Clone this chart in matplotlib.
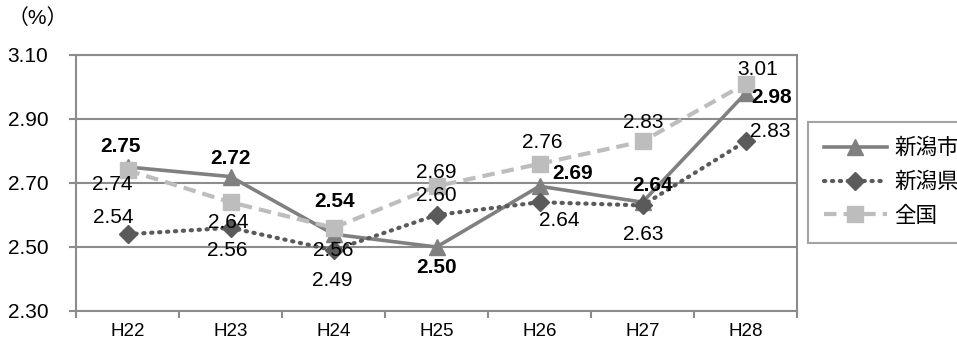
import matplotlib
matplotlib.use("Agg")
import matplotlib.pyplot as plt
from matplotlib.ticker import FixedLocator, NullFormatter

plt.rcParams['font.family'] = ['Liberation Sans', 'Noto Sans CJK JP', 'DejaVu Sans']

# data
years = ["H22", "H23", "H24", "H25", "H26", "H27", "H28"]
city = [2.75, 2.72, 2.54, 2.50, 2.69, 2.64, 2.98]
pref = [2.54, 2.56, 2.49, 2.60, 2.64, 2.63, 2.83]
nation = [2.74, 2.64, 2.56, 2.69, 2.76, 2.83, 3.01]
names = ["新潟市", "新潟県", "全国"]
yticks = [2.30, 2.50, 2.70, 2.90, 3.10]

# label offsets (pixels) for each series
city_off = [(-7, 20), (0, 18), (1, 33), (0, -21), (33, 13), (10, 17), (26, -4)]
pref_off = [(-14, 17), (-3, -23), (-1, -30), (0, 19), (20, -18), (1, -29), (25, 10)]
nation_off = [(-15, -14), (-2, -20), (0, -23), (0, 14), (3, 21), (1, 19), (12, 14)]

fig = plt.figure(figsize=(9.57, 3.41), dpi=100)
ax = fig.add_axes([76 / 957, 30 / 341, 721 / 957, 256 / 341])

x = list(range(len(years)))
grid_c = "#8c8c8c"

ax.plot(x, city, color="#808080", lw=2.6, marker="^", ms=11, label=names[0], zorder=3)
ax.plot(x, pref, color="#5a5a5a", lw=3, ls=(0, (0.3, 1.6)), dash_capstyle="round",
        marker="D", ms=9, label=names[1], zorder=4)
ax.plot(x, nation, color="#bdbdbd", lw=3, ls=(0, (3, 1.7)),
        marker="s", ms=11, label=names[2], zorder=5)

for vals, offs, bold in [(city, city_off, True), (pref, pref_off, False), (nation, nation_off, False)]:
    for i, v in enumerate(vals):
        ax.annotate(f"{v:.2f}", (i, v), xytext=offs[i], textcoords="offset pixels",
                    ha="center", va="center", fontsize=15,
                    fontweight="bold" if bold else "normal", color="black", zorder=10)

ax.set_xlim(-0.5, len(years) - 0.5)
ax.set_ylim(2.30, 3.10)
ax.set_yticks(yticks)
ax.set_yticklabels([f"{t:.2f}" for t in yticks], fontsize=15)
ax.set_xticks(x)
ax.set_xticklabels(years, fontsize=13.5)
ax.xaxis.set_minor_locator(FixedLocator([i - 0.5 for i in range(len(years) + 1)]))
ax.xaxis.set_minor_formatter(NullFormatter())
ax.tick_params(axis="x", which="major", length=0, pad=9)
ax.tick_params(axis="x", which="minor", length=5, width=1.5, color=grid_c, direction="out")
ax.tick_params(axis="y", length=5, width=1.5, color=grid_c, pad=15)
ax.grid(axis="y", color=grid_c, lw=1.5)
for s in ax.spines.values():
    s.set_color(grid_c)
    s.set_linewidth(1.5)

fig.text(8 / 957, 1 - 18 / 341, "（%）", fontsize=15, va="center", ha="left")

leg = fig.legend(loc="upper left", bbox_to_anchor=(808 / 957, 1 - 122 / 341),
                 fontsize=15.5, handlelength=2.9, labelspacing=0.6, handletextpad=0.35,
                 fancybox=False, frameon=True, borderaxespad=0, borderpad=0.75)
leg.get_frame().set_edgecolor(grid_c)
leg.get_frame().set_linewidth(1.5)

fig.savefig("out.png", dpi=100)
